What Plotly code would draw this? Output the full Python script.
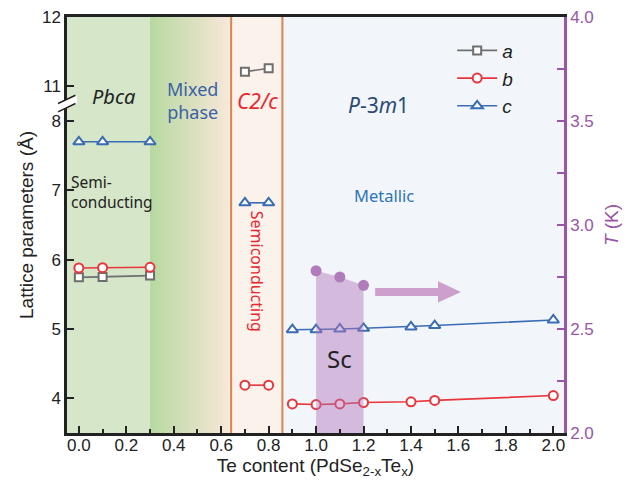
import plotly.graph_objects as go

# ---------------- data ----------------
# lattice parameter a (Angstrom)
x_a_low = [0.0, 0.1, 0.3]
a_low = [5.745, 5.75, 5.77]
x_a_high = [0.7, 0.8]
a_high = [11.21, 11.26]          # shown on the broken (upper) part of the axis
# lattice parameter b
x_b1 = [0.0, 0.1, 0.3]
b1 = [5.88, 5.885, 5.89]
x_b2 = [0.7, 0.8]
b2 = [4.19, 4.19]
x_b3 = [0.9, 1.0, 1.1, 1.2, 1.4, 1.5, 2.0]
b3 = [3.92, 3.91, 3.92, 3.94, 3.95, 3.97, 4.04]
# lattice parameter c
x_c1 = [0.0, 0.1, 0.3]
c1 = [7.70, 7.70, 7.70]
x_c2 = [0.7, 0.8]
c2 = [6.82, 6.82]
x_c3 = [0.9, 1.0, 1.1, 1.2, 1.4, 1.5, 2.0]
c3 = [4.99, 4.99, 5.00, 5.01, 5.03, 5.05, 5.13]
# superconducting Tc (K)
x_tc = [1.0, 1.1, 1.2]
tc = [2.78, 2.75, 2.71]

y_ticks_real = [4, 5, 6, 7, 8, 11, 12]
BREAK_SHIFT = 2.5   # values >= 11 are shifted down by this amount


def yb(v):
    return v - BREAK_SHIFT if v >= 11 else v


# ---------------- styles ----------------
GRAY = "#6e6e6e"
RED = "#e8363c"
BLUE = "#3a6cb4"
PURPLE = "#9b55a8"
ORANGE = "#d9844c"

fig = go.Figure()

# Superconducting region (on T axis)
fig.add_trace(go.Scatter(
    x=[x_tc[0]] + x_tc + [x_tc[-1]],
    y=[2.0] + tc + [2.0],
    yaxis="y2", mode="lines", fill="toself",
    fillcolor="rgba(175,115,185,0.45)", line=dict(width=0),
    hoverinfo="skip", showlegend=False))


def series(xs, ys, name, color, symbol, size, show):
    fig.add_trace(go.Scatter(
        x=xs, y=[yb(v) for v in ys], mode="lines+markers", name=name,
        legendgroup=name, showlegend=show,
        line=dict(color=color, width=1.6),
        marker=dict(symbol=symbol, size=size, color="white",
                    line=dict(color=color, width=2))))


series(x_a_low, a_low, "<i>a</i>", GRAY, "square", 8, True)
series(x_a_high, a_high, "<i>a</i>", GRAY, "square", 8, False)
series(x_b1, b1, "<i>b</i>", RED, "circle", 9, True)
series(x_b2, b2, "<i>b</i>", RED, "circle", 9, False)
series(x_b3, b3, "<i>b</i>", RED, "circle", 9, False)
series(x_c1, c1, "<i>c</i>", BLUE, "triangle-up", 10, True)
series(x_c2, c2, "<i>c</i>", BLUE, "triangle-up", 10, False)
series(x_c3, c3, "<i>c</i>", BLUE, "triangle-up", 10, False)

# Tc points
fig.add_trace(go.Scatter(
    x=x_tc, y=tc, yaxis="y2", mode="markers", showlegend=False,
    marker=dict(color="#b07cb9", size=11)))

# ---------------- background shapes ----------------
shapes = []
shapes.append(dict(type="rect", xref="x", yref="paper", x0=-0.05, x1=0.3,
                   y0=0, y1=1, fillcolor="#d5e7c8", line=dict(width=0),
                   layer="below"))


def hex2rgb(h):
    h = h.lstrip("#")
    return [int(h[i:i + 2], 16) for i in (0, 2, 4)]


c_start = hex2rgb("#b6d89f")
c_end = hex2rgb("#f9e7d9")
n = 40
g0, g1 = 0.3, 0.642
for i in range(n):
    t = i / (n - 1)
    col = [round(c_start[k] + (c_end[k] - c_start[k]) * t) for k in range(3)]
    xa = g0 + (g1 - g0) * i / n
    xb = g0 + (g1 - g0) * (i + 1) / n + 0.002
    shapes.append(dict(type="rect", xref="x", yref="paper", x0=xa, x1=xb,
                       y0=0, y1=1, fillcolor="rgb(%d,%d,%d)" % tuple(col),
                       line=dict(width=0), layer="below"))
shapes.append(dict(type="rect", xref="x", yref="paper", x0=0.642, x1=0.858,
                   y0=0, y1=1, fillcolor="#fcf2ec", line=dict(width=0),
                   layer="below"))
shapes.append(dict(type="rect", xref="x", yref="paper", x0=0.858, x1=2.045,
                   y0=0, y1=1, fillcolor="#f2f6fb", line=dict(width=0),
                   layer="below"))
for xv in (0.642, 0.858):
    shapes.append(dict(type="line", xref="x", yref="paper", x0=xv, x1=xv,
                       y0=0, y1=1, line=dict(color=ORANGE, width=2),
                       layer="below"))

# arrow toward the T axis
ay, hb, hh = 2.678, 0.019, 0.051
x_s, x_n, x_t = 1.249, 1.514, 1.611
shapes.append(dict(
    type="path", xref="x", yref="y2",
    path=(f"M {x_s},{ay - hb} L {x_n},{ay - hb} L {x_n},{ay - hh} "
          f"L {x_t},{ay} L {x_n},{ay + hh} L {x_n},{ay + hb} "
          f"L {x_s},{ay + hb} Z"),
    fillcolor="#cc9fcd", line=dict(width=0)))

# axis break marks
shapes.append(dict(type="path", xref="paper", yref="paper",
                   path="M -0.02,0.772 L 0.02,0.792 L 0.02,0.812 L -0.02,0.792 Z",
                   fillcolor="white", line=dict(width=0)))
for y0, y1 in ((0.772, 0.792), (0.792, 0.812)):
    shapes.append(dict(type="line", xref="paper", yref="paper",
                       x0=-0.018, x1=0.017, y0=y0, y1=y1,
                       line=dict(color="#222", width=1.5)))

# ---------------- annotations ----------------
TXT = "Noto Sans"
ann = [
    dict(x=0.145, y=8.36, text="<i>Pbca</i>", font=dict(size=20, color="#222", family=TXT)),
    dict(x=0.477, y=8.30, text="Mixed<br>phase", font=dict(size=18, color="#3b62a5", family=TXT)),
    dict(x=0.751, y=8.29, text="<i>C2/c</i>", font=dict(size=21, color="#e8262e", family=TXT)),
    dict(x=1.261, y=8.23, text="<i>P</i>-3<i>m</i>1", font=dict(size=21, color="#2a4a75", family=TXT)),
    dict(x=1.287, y=6.92, text="Metallic", font=dict(size=16.5, color="#2e75b6", family=TXT)),
    dict(x=-0.042, y=6.98, text="Semi-<br>conducting", xanchor="left", align="left",
         font=dict(size=15.5, color="#222", family=TXT)),
    dict(x=0.751, y=5.84, text="Semiconducting", textangle=90,
         font=dict(size=16, color="#e8262e", family=TXT)),
    dict(x=1.1, y=4.58, text="Sc", font=dict(size=24, color="#222", family=TXT)),
]
for a in ann:
    a.update(xref="x", yref="y", showarrow=False)

# page body adds ~8px offset; compensate so the plot area lands where the reference has it
fig.update_layout(
    width=625, height=478,
    margin=dict(l=59, r=69, t=9, b=53, autoexpand=False),
    paper_bgcolor="white", plot_bgcolor="white",
    font=dict(family="Liberation Sans, Arial", size=17, color="#222"),
    shapes=shapes, annotations=ann,
    legend=dict(x=0.775, y=0.965, xanchor="left", yanchor="top",
                bgcolor="rgba(0,0,0,0)", font=dict(size=19, color="#222"),
                tracegroupgap=0, itemwidth=40),
    xaxis=dict(range=[-0.05, 2.045], dtick=0.2, tick0=0, tickformat=".1f",
               ticks="inside", ticklen=7, tickwidth=2, tickcolor="#222",
               showline=True, linecolor="#222", linewidth=2.5, mirror=True,
               showgrid=False, zeroline=False, automargin=False,
               ticklabelstandoff=-5, ticklabeloverflow="allow",
               minor=dict(dtick=0.1, ticks="inside", ticklen=4, tickwidth=1.5,
                          tickcolor="#222"),
               title=dict(text="Te content (PdSe<sub>2-x</sub>Te<sub>x</sub>)",
                          font=dict(size=19), standoff=4)),
    yaxis=dict(range=[3.5, 9.5],
               tickvals=[yb(v) for v in y_ticks_real],
               ticktext=[str(v) for v in y_ticks_real],
               ticks="inside", ticklen=7, tickwidth=2, tickcolor="#222",
               showline=True, linecolor="#222", linewidth=2.5,
               showgrid=False, zeroline=False, automargin=False,
               ticklabeloverflow="allow",
               title=dict(text="Lattice parameters (Å)", font=dict(size=19),
                          standoff=4)),
    yaxis2=dict(overlaying="y", side="right", range=[2.0, 4.0], dtick=0.5,
                tick0=2.0, tickformat=".1f", ticks="inside", ticklen=7,
                tickwidth=2, tickcolor=PURPLE, showline=True,
                linecolor=PURPLE, linewidth=2.5, showgrid=False,
                zeroline=False, automargin=False, ticklabeloverflow="allow",
                tickfont=dict(color=PURPLE, size=17),
                minor=dict(dtick=0.25, ticks="inside", ticklen=7,
                           tickwidth=2, tickcolor=PURPLE),
                title=dict(text="<i>T</i> (K)", font=dict(color=PURPLE, size=19),
                           standoff=12)),
)

fig.write_html("out.html")
